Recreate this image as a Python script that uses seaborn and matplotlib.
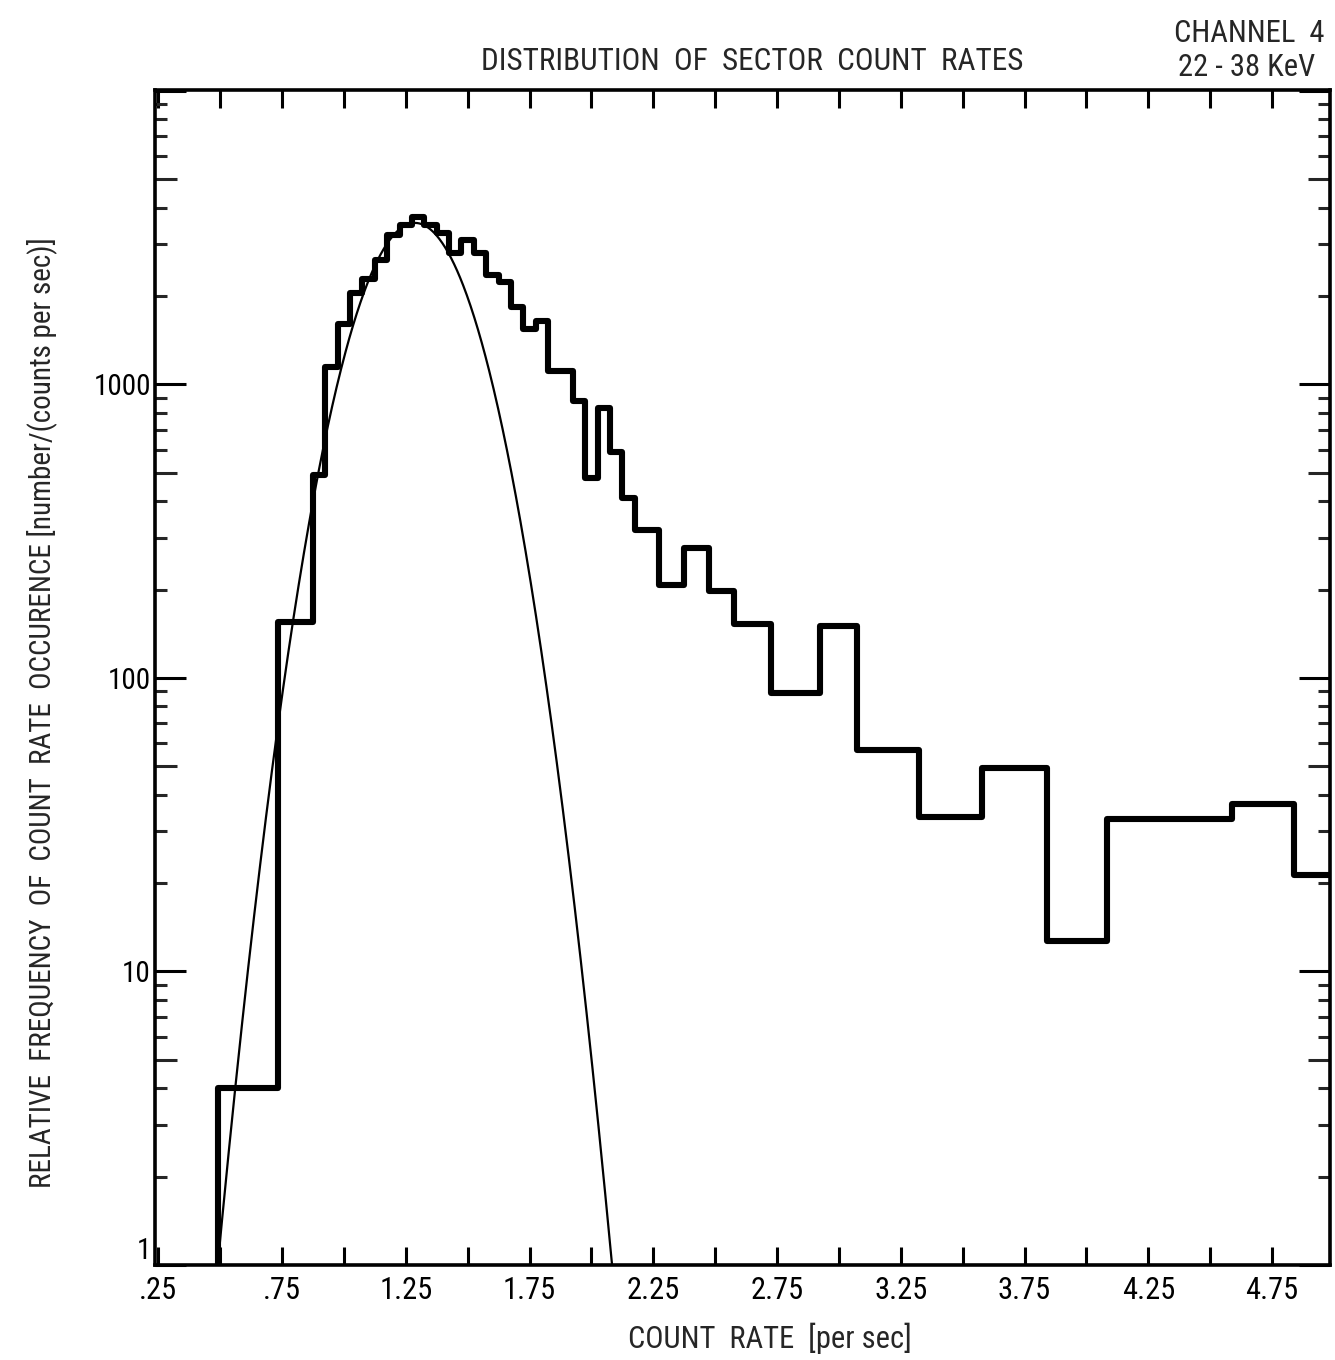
import numpy as np
import pandas as pd
import matplotlib
matplotlib.use("Agg")
import matplotlib.pyplot as plt
import seaborn as sns
from matplotlib import font_manager as fm
from matplotlib.ticker import FixedLocator, FixedFormatter, NullFormatter

# ---------------- data ----------------
bin_edges = [0.49, 0.735, 0.875, 0.925, 0.975, 1.025, 1.075, 1.125, 1.175, 1.225,
             1.275, 1.325, 1.375, 1.425, 1.475, 1.525, 1.575, 1.625, 1.675, 1.725,
             1.775, 1.825, 1.925, 1.975, 2.025, 2.075, 2.125, 2.175, 2.275, 2.375,
             2.475, 2.575, 2.725, 2.925, 3.075, 3.325, 3.58, 3.84, 4.085, 4.59,
             4.84, 5.0]
bin_values = [4, 155, 490, 1150, 1600, 2050, 2280, 2650, 3230, 3500,
              3720, 3500, 3280, 2800, 3100, 2800, 2350, 2230, 1830, 1550,
              1650, 1110, 880, 480, 830, 590, 410, 320, 208, 277,
              198, 153, 89, 150, 57, 33.5, 49.5, 12.7, 33.2, 37.3,
              21.3]

# Gaussian fit curve parameters
fit_peak = 3550.0
fit_mean = 1.287
fit_sigma = 0.197

x_tick_positions = [0.25, 0.5, 0.75, 1.0, 1.25, 1.5, 1.75, 2.0, 2.25, 2.5, 2.75,
                    3.0, 3.25, 3.5, 3.75, 4.0, 4.25, 4.5, 4.75]
x_tick_labels = [".25", "", ".75", "", "1.25", "", "1.75", "", "2.25", "", "2.75",
                 "", "3.25", "", "3.75", "", "4.25", "", "4.75"]
y_tick_positions = [1, 10, 100, 1000, 10000]
y_tick_labels = ["1", "10", "100", "1000", ""]

title_text = "DISTRIBUTION  OF  SECTOR  COUNT  RATES"
channel_text = "CHANNEL  4"
energy_text = "22 - 38 KeV"
x_label_text = "COUNT  RATE  [per sec]"
y_label_text = "RELATIVE  FREQUENCY  OF  COUNT  RATE  OCCURENCE [number/(counts per sec)]"

# ---------------- style ----------------
sns.set_style("white")
avail = {f.name for f in fm.fontManager.ttflist}
cands = ["Liberation Sans Narrow", "Roboto Condensed", "Open Sans Condensed",
         "Liberation Sans", "DejaVu Sans"]
FONT = next(c for c in cands if c in avail)
plt.rcParams["font.family"] = [FONT, "DejaVu Sans"]

W, H = 1335, 1360
fig = plt.figure(figsize=(W / 100, H / 100), dpi=100)
fig.patch.set_facecolor("white")
ax = fig.add_axes([155 / W, 1 - 1265 / H, 1175 / W, 1175 / H])

centers = [(a + b) / 2 for a, b in zip(bin_edges[:-1], bin_edges[1:])]
df = pd.DataFrame({"rate": centers, "freq": bin_values})
sns.histplot(data=df, x="rate", weights="freq", bins=bin_edges, element="step",
             fill=False, color="black", linewidth=4.4, ax=ax)
# leading edge of the first bin, rising from the bottom of the axis
ax.vlines(bin_edges[0], 0.5, bin_values[0], color="black", linewidth=4.4)

xs = np.linspace(0.40, 2.20, 600)
ys = fit_peak * np.exp(-((xs - fit_mean) ** 2) / (2 * fit_sigma ** 2))
sns.lineplot(x=xs, y=ys, color="black", linewidth=1.6, ax=ax)

ax.set_yscale("log")
ax.set_xlim(0.237, 4.984)
ax.set_ylim(1, 10 ** 4.003)

ax.xaxis.set_major_locator(FixedLocator(x_tick_positions))
ax.xaxis.set_major_formatter(FixedFormatter(x_tick_labels))
ax.yaxis.set_major_locator(FixedLocator(y_tick_positions))
ax.yaxis.set_major_formatter(FixedFormatter(y_tick_labels))
minor = [m * 10 ** k for k in range(0, 4) for m in range(2, 10)]
ax.yaxis.set_minor_locator(FixedLocator(minor))
ax.yaxis.set_minor_formatter(NullFormatter())
ax.xaxis.set_minor_locator(FixedLocator([]))

ax.tick_params(axis="x", which="major", direction="in", length=13, width=2.2,
               top=True, bottom=True, labelsize=22, pad=8, colors="black")
ax.tick_params(axis="y", which="major", direction="in", length=22, width=2.2,
               left=True, right=True, labelsize=21, pad=3, colors="black")
ax.tick_params(axis="y", which="minor", direction="in", length=8.5, width=2.2,
               left=True, right=True)

locs = ax.yaxis.get_minorticklocs()
mticks = ax.yaxis.get_minor_ticks(len(locs))
for loc, t in zip(locs, mticks):
    mant = loc / 10 ** np.floor(np.log10(loc) + 1e-9)
    if abs(mant - 5) < 1e-6:
        t.tick1line.set_markersize(16)
        t.tick2line.set_markersize(16)

# the "1" label sits just above the bottom spine, clear of ".25"
fig.canvas.draw()
for lbl in ax.get_yticklabels():
    if lbl.get_text() == "1":
        lbl.set_verticalalignment("bottom")

for s in ax.spines.values():
    s.set_linewidth(2.6)
    s.set_color("black")
    s.set_visible(True)

ax.set_xlabel("")
ax.set_ylabel("")

fig.text(752 / W, 1 - 62 / H, title_text, ha="center", va="center", fontsize=22.5)
fig.text(1249 / W, 1 - 33 / H, channel_text, ha="center", va="center", fontsize=22)
fig.text(1247 / W, 1 - 68 / H, energy_text, ha="center", va="center", fontsize=22)
fig.text(770 / W, 1 - 1338 / H, x_label_text, ha="center", va="center", fontsize=22)
fig.text(42 / W, 1 - 713 / H, y_label_text, ha="center", va="center", fontsize=21,
         rotation=90)

fig.savefig("out.png", dpi=100, facecolor="white")
